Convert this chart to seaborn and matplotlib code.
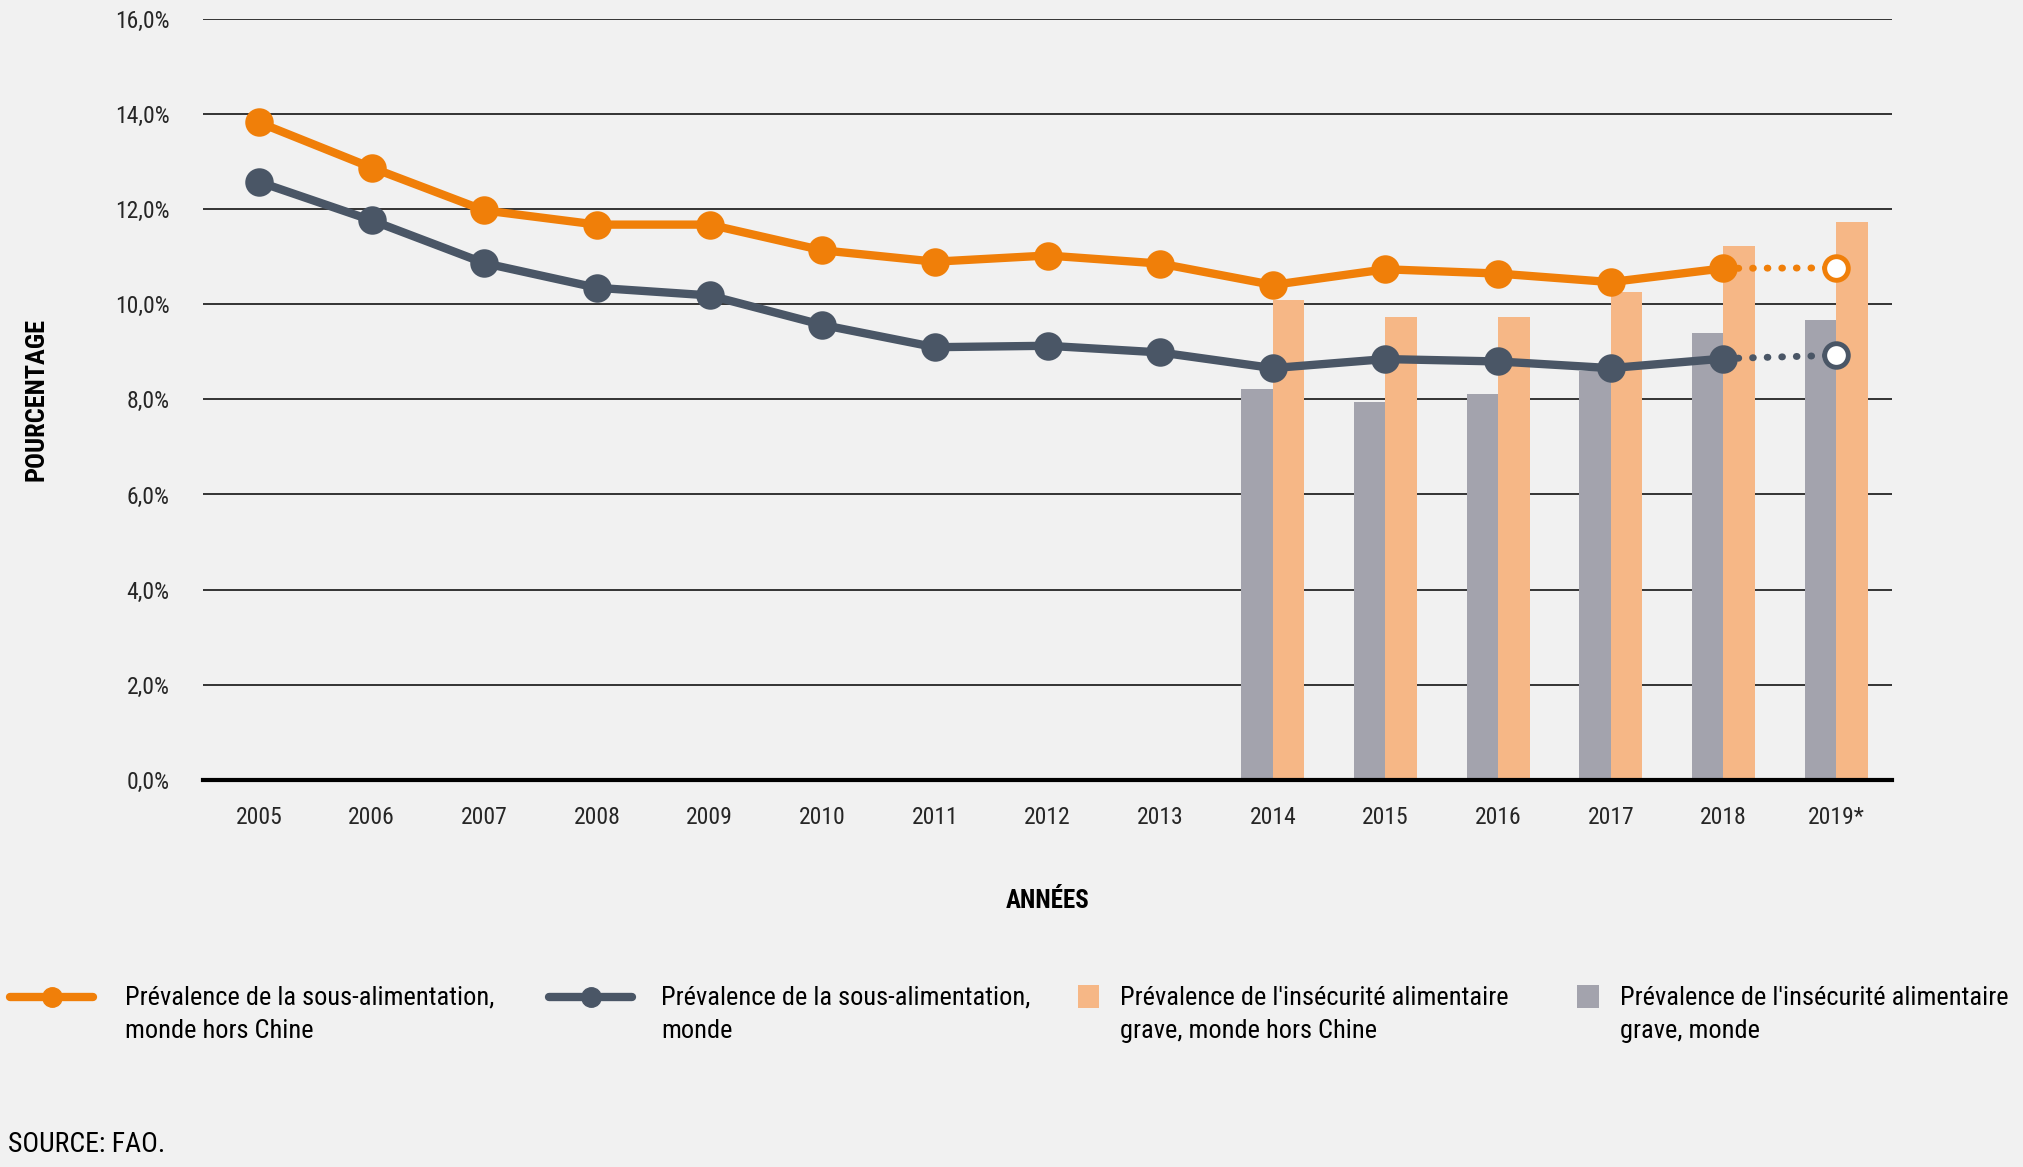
import matplotlib
matplotlib.use("Agg")
import matplotlib.pyplot as plt
from matplotlib import font_manager
from matplotlib.lines import Line2D
from matplotlib.patches import Rectangle
import pandas as pd
import seaborn as sns


# Data

years = ['2005', '2006', '2007', '2008', '2009', '2010', '2011', '2012',
         '2013', '2014', '2015', '2016', '2017', '2018', '2019*']
undernourish_ex_china = [13.83, 12.88, 11.98, 11.68, 11.68, 11.14, 10.90, 11.03,
                         10.86, 10.41, 10.74, 10.65, 10.47, 10.76, 10.77]
undernourish_world = [12.58, 11.77, 10.87, 10.35, 10.19, 9.57, 9.10, 9.13,
                      8.99, 8.66, 8.85, 8.80, 8.66, 8.86, 8.93]

fi_years = ['2014', '2015', '2016', '2017', '2018', '2019*']
severe_fi_ex_china = [10.09, 9.73, 9.73, 10.26, 11.22, 11.74]
severe_fi_world = [8.23, 7.94, 8.12, 8.59, 9.39, 9.68]

y_ticks = [0, 2, 4, 6, 8, 10, 12, 14, 16]

labels = {
    'line_ex': "Prévalence de la sous-alimentation,\nmonde hors Chine",
    'line_world': "Prévalence de la sous-alimentation,\nmonde",
    'bar_ex': "Prévalence de l'insécurité alimentaire\ngrave, monde hors Chine",
    'bar_world': "Prévalence de l'insécurité alimentaire\ngrave, monde",
}

BG = '#F1F1F1'
ORANGE = '#F07F09'
SLATE = '#4A5666'
BAR_ORANGE = '#F6B786'
BAR_GREY = '#A3A3AD'


# Style: look for a narrow face, the original uses a condensed grotesque

sns.set_theme(style='white', rc={'figure.facecolor': BG, 'axes.facecolor': BG})
fonts = font_manager.fontManager.ttflist
names = {f.name for f in fonts}
narrow = None
for cand in ['Roboto Condensed', 'Open Sans Condensed', 'Noto Sans Condensed',
             'DejaVu Sans Condensed', 'Liberation Sans Narrow', 'Arial Narrow']:
    if cand in names:
        narrow = cand
        break
stretch = 'normal'
if narrow is None:
    cond = [f for f in fonts if f.stretch in ('condensed', 'semi-condensed', 'extra-condensed')
            or (isinstance(f.stretch, int) and f.stretch < 500)]
    if cond:
        narrow = cond[0].name
        stretch = 'condensed'
    else:
        narrow = 'DejaVu Sans'
plt.rcParams['font.family'] = [narrow, 'DejaVu Sans']
plt.rcParams['font.stretch'] = stretch
plt.rcParams['text.color'] = 'black'


# Frames

lines_df = pd.DataFrame({'year': years, 'ex_china': undernourish_ex_china, 'world': undernourish_world})
bars_df = pd.concat([
    pd.DataFrame({'year': fi_years, 'value': severe_fi_world, 'series': 'world'}),
    pd.DataFrame({'year': fi_years, 'value': severe_fi_ex_china, 'series': 'ex_china'}),
])

fig = plt.figure(figsize=(20.24, 11.67), dpi=100)
ax = fig.add_axes([0.1001, 0.332, 0.8349, 0.6514])

sns.barplot(data=bars_df, x='year', y='value', hue='series', order=years,
            hue_order=['world', 'ex_china'], palette={'world': BAR_GREY, 'ex_china': BAR_ORANGE},
            width=0.56, saturation=1, errorbar=None, legend=False, linewidth=0, ax=ax)

solid = lines_df.iloc[:-1]
tail = lines_df.iloc[-2:]
last = lines_df.iloc[-1:]

for col, color in [('ex_china', ORANGE), ('world', SLATE)]:
    sns.pointplot(data=solid, x='year', y=col, order=years, color=color, markers='o',
                  errorbar=None, linewidth=6, markersize=16, ax=ax, zorder=4)
    sns.pointplot(data=tail, x='year', y=col, order=years, color=color, markers='',
                  linestyles=(0, (0.1, 2.0)), errorbar=None, linewidth=5,
                  dash_capstyle='round', ax=ax, zorder=3)
    sns.pointplot(data=last, x='year', y=col, order=years, color=color, markers='o',
                  errorbar=None, markersize=17, markerfacecolor='white',
                  markeredgecolor=color, markeredgewidth=3.5, ax=ax, zorder=5)

ax.set_ylim(0, 16)
ax.set_xlim(-0.5, len(years) - 0.5)
ax.set_yticks(y_ticks)
ax.set_yticklabels([f'{v:.1f}%'.replace('.', ',') for v in y_ticks])
ax.set_xlabel('')
ax.set_ylabel('')
ax.set_axisbelow(True)
ax.yaxis.grid(True, color='black', linewidth=1.1)
ax.xaxis.grid(False)
for side in ['left', 'right', 'top']:
    ax.spines[side].set_visible(False)
ax.spines['bottom'].set_color('black')
ax.spines['bottom'].set_linewidth(3)
ax.spines['bottom'].set_zorder(6)
ax.tick_params(axis='y', length=0, pad=24, labelsize=17)
ax.tick_params(axis='x', length=0, pad=19, labelsize=17)

fig.text(0.018, 0.6577, 'POURCENTAGE', rotation=90, ha='center', va='center',
         fontsize=19, fontweight='bold')
fig.text(0.5176, 0.228, 'ANNÉES', ha='center', va='center', fontsize=18, fontweight='bold')
fig.text(0.004, 0.019, 'SOURCE: FAO.', ha='left', va='center', fontsize=20)


# Legend, laid out by hand so the marks sit on the first text line

handle_y = 0.1461
text_y = 0.1306
for (x0, x1), color in [((0.005, 0.046), ORANGE), ((0.2712, 0.3124), SLATE)]:
    fig.add_artist(Line2D([x0, x1], [handle_y, handle_y], transform=fig.transFigure,
                          color=color, lw=6, solid_capstyle='round'))
    fig.add_artist(Line2D([(x0 + x1) / 2], [handle_y], transform=fig.transFigure,
                          color=color, marker='o', markersize=14, lw=0))
for x0, color in [(0.5326, BAR_ORANGE), (0.7793, BAR_GREY)]:
    fig.add_artist(Rectangle((x0, 0.1363), 0.0105, 0.0195, transform=fig.transFigure,
                             facecolor=color, edgecolor='none'))
for x0, key in [(0.0619, 'line_ex'), (0.3265, 'line_world'), (0.5535, 'bar_ex'), (0.8004, 'bar_world')]:
    fig.text(x0, text_y, labels[key], ha='left', va='center', fontsize=19, linespacing=1.5)

fig.savefig('out.png', dpi=100, facecolor=BG)
